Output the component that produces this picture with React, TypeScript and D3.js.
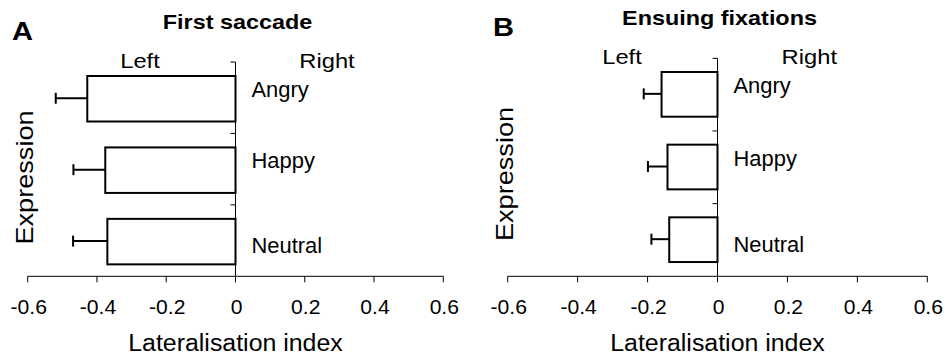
import React from "react";
import * as d3 from "d3";

const categories = ["Angry", "Happy", "Neutral"];
const firstSaccadeMean = [-0.428, -0.376, -0.37];
const firstSaccadeErr = [0.091, 0.092, 0.099];
const ensuingMean = [-0.16, -0.143, -0.138];
const ensuingErr = [0.051, 0.056, 0.051];
const xTicks = [-0.6, -0.4, -0.2, 0, 0.2, 0.4, 0.6];
const xTickLabels = ["-0.6", "-0.4", "-0.2", "0", "0.2", "0.4", "0.6"];

const FONT = "'Liberation Sans', Arial, sans-serif";

type STextProps = {
  x: number;
  y: number;
  size: number;
  sx?: number;
  anchor?: string;
  bold?: boolean;
  rotate?: number;
  children: React.ReactNode;
};

function SText({ x, y, size, sx = 1, anchor = "start", bold = false, rotate = 0, children }: STextProps) {
  return (
    <g transform={`translate(${x},${y}) rotate(${rotate}) scale(${sx},1)`}>
      <text
        x={0}
        y={0}
        fontFamily={FONT}
        fontSize={size}
        fontWeight={bold ? "bold" : "normal"}
        textAnchor={anchor}
        fill="#000"
      >
        {children}
      </text>
    </g>
  );
}

type PanelProps = {
  letter: string;
  title: string;
  means: number[];
  errs: number[];
  x0: number;
  x1: number;
  yTop: number;
  yBottom: number;
  barOffset: number;
  barHeight: number;
  letterX: number;
  letterY: number;
  titleY: number;
  lrY: number;
  leftX: number;
  rightX: number;
  exprX: number;
  exprY: number;
};

function Panel(p: PanelProps) {
  const x = d3.scaleLinear().domain([-0.6, 0.6]).range([p.x0, p.x1]);
  const y = d3.scaleBand<string>().domain(categories).range([p.yTop, p.yBottom]).padding(0);
  const zero = x(0);
  const axisY = p.yBottom;
  return (
    <g>
      <SText x={p.letterX} y={p.letterY} size={26} sx={1.12} bold>
        {p.letter}
      </SText>
      <SText x={zero + 2} y={p.titleY} size={20} sx={1.17} bold anchor="middle">
        {p.title}
      </SText>
      <SText x={p.leftX} y={p.lrY} size={21} sx={1.13} anchor="middle">
        Left
      </SText>
      <SText x={p.rightX} y={p.lrY} size={21} sx={1.13} anchor="middle">
        Right
      </SText>
      <SText x={p.exprX} y={p.exprY} size={24} sx={1.13} anchor="middle" rotate={-90}>
        Expression
      </SText>

      {categories.map((c, i) => {
        const top = (y(c) as number) + p.barOffset;
        const v = p.means[i];
        const left = x(v);
        const cy = top + p.barHeight / 2 - 0.5;
        const ex = x(v - p.errs[i]);
        return (
          <g key={c}>
            <rect
              x={left}
              y={top}
              width={zero - left}
              height={p.barHeight}
              fill="#fff"
              stroke="#000"
              strokeWidth={2}
            />
            <line x1={ex} x2={left} y1={cy} y2={cy} stroke="#000" strokeWidth={2} />
            <line x1={ex} x2={ex} y1={cy - 5.5} y2={cy + 5.5} stroke="#000" strokeWidth={2} />
          </g>
        );
      })}

      <line x1={zero} x2={zero} y1={p.yTop} y2={axisY} stroke="#000" strokeWidth={1} />
      {categories.map((c) => (
        <line
          key={"yt" + c}
          x1={zero - 5}
          x2={zero}
          y1={y(c) as number}
          y2={y(c) as number}
          stroke="#000"
          strokeWidth={1}
        />
      ))}

      {categories.map((c, i) => (
        <SText
          key={"lab" + c}
          x={zero + 16}
          y={(y(c) as number) + (i === categories.length - 1 ? 48 : 35)}
          size={21.5}
          sx={1.02}
        >
          {c}
        </SText>
      ))}

      <line x1={p.x0} x2={p.x1} y1={axisY} y2={axisY} stroke="#000" strokeWidth={1} />
      {xTicks.map((t, i) => (
        <g key={"xt" + t}>
          <line x1={x(t)} x2={x(t)} y1={axisY} y2={axisY + 6} stroke="#000" strokeWidth={1} />
          <SText x={x(t) + 1} y={313.5} size={20.5} sx={1.03} anchor="middle">
            {xTickLabels[i]}
          </SText>
        </g>
      ))}
      <SText x={zero} y={351} size={23.5} sx={1.06} anchor="middle">
        Lateralisation index
      </SText>
    </g>
  );
}

export default function App() {
  return (
    <svg
      width={950}
      height={364}
      style={{ position: "absolute", left: 0, top: 0, background: "#fff" }}
    >
      <rect x={0} y={0} width={950} height={364} fill="#fff" />
      <Panel
        letter="A"
        title="First saccade"
        means={firstSaccadeMean}
        errs={firstSaccadeErr}
        x0={27.7}
        x1={443.3}
        yTop={62}
        yBottom={276.3}
        barOffset={14}
        barHeight={45.5}
        letterX={12}
        letterY={40}
        titleY={28.5}
        lrY={68}
        leftX={140}
        rightX={327}
        exprX={33.3}
        exprY={177.5}
      />
      <Panel
        letter="B"
        title="Ensuing fixations"
        means={ensuingMean}
        errs={ensuingErr}
        x0={507.7}
        x1={927.3}
        yTop={58.3}
        yBottom={276.3}
        barOffset={13.7}
        barHeight={44.7}
        letterX={493}
        letterY={36}
        titleY={25}
        lrY={64.3}
        leftX={622}
        rightX={809.3}
        exprX={513.3}
        exprY={174}
      />
    </svg>
  );
}
